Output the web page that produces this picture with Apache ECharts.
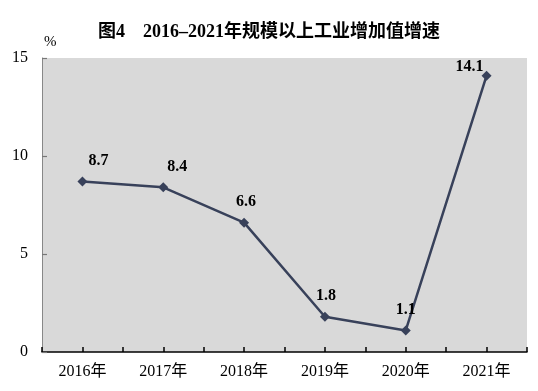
<!DOCTYPE html>
<html><head><meta charset="utf-8">
<script src="https://cdn.jsdelivr.net/npm/echarts@6/dist/echarts.min.js"></script>
<style>html,body{margin:0;padding:0;background:#fff}#c{width:538px;height:391px}</style>
</head><body><div id="c"></div>
<script>
const categories = ['2016年','2017年','2018年','2019年','2020年','2021年'];
const growth = [8.7, 8.4, 6.6, 1.8, 1.1, 14.1];
const yTicks = [0, 5, 10, 15];
const tickSlots = ['','','','','','','','','','','','',''];

const FONT = '"Liberation Serif", "Times New Roman", "Noto Sans CJK SC", serif';
const labelTweaks = [[16,-2],[14,-2],[2,-2],[1,-2],[0,-2],[-17,10]];
const chart = echarts.init(document.getElementById('c'));
chart.setOption({
  animation: false,
  title: {
    text: '图4　2016–2021年规模以上工业增加值增速',
    left: 'center', top: 18,
    textStyle: { fontFamily: FONT, fontSize: 18, fontWeight: 'bold', color: '#000' }
  },
  grid: { left: 42, right: 11, top: 58, bottom: 39, show: false },
  xAxis: [{
    type: 'category', data: categories, boundaryGap: true,
    axisLine: { show: true, onZero: false, lineStyle: { color: '#000', width: 1.5 } },
    axisTick: { show: false },
    splitLine: { show: false },
    splitArea: { show: true, interval: 0, areaStyle: { color: ['#d9d9d9'] } },
    axisLabel: { interval: 0, fontFamily: FONT, fontSize: 16, color: '#000', margin: 12 }
  }, {
    type: 'category', data: tickSlots, boundaryGap: false, position: 'bottom',
    axisLine: { show: false, onZero: false },
    axisTick: { show: true, inside: true, interval: 0, length: 5, lineStyle: { color: '#000', width: 1.5 } },
    axisLabel: { show: false },
    splitLine: { show: false }
  }],
  yAxis: {
    type: 'value', min: yTicks[0], max: yTicks[yTicks.length - 1], interval: 5,
    name: '%', nameLocation: 'end', nameGap: 8,
    nameTextStyle: { fontFamily: FONT, fontSize: 15, color: '#000', align: 'left', padding: [0,0,0,2] },
    axisLine: { show: true, onZero: false, lineStyle: { color: '#888', width: 1 } },
    axisTick: { show: true, inside: true, length: 5, lineStyle: { color: '#777', width: 1.2 } },
    splitLine: { show: false },
    axisLabel: { fontFamily: FONT, fontSize: 16, color: '#000', margin: 14 }
  },
  series: [{
    type: 'line',
    xAxisIndex: 0,
    data: growth.map((v, i) => ({
      value: v,
      label: { offset: labelTweaks[i] }
    })),
    symbol: 'diamond', symbolSize: 10,
    lineStyle: { color: '#38415a', width: 2.5 },
    itemStyle: { color: '#38415a' },
    label: {
      show: true, position: 'top', distance: 6,
      formatter: p => p.value.toFixed(1),
      fontFamily: FONT, fontSize: 16, fontWeight: 'bold', color: '#000'
    }
  }]
});
</script></body></html>
